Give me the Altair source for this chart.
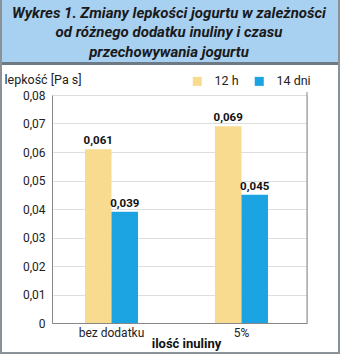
import altair as alt
import pandas as pd

categories = ["bez dodatku", "5%"]
series = ["12 h", "14 dni"]
values_12h = [0.061, 0.069]
values_14d = [0.039, 0.045]
y_ticks = [0, 0.01, 0.02, 0.03, 0.04, 0.05, 0.06, 0.07, 0.08]
title_lines = ["Wykres 1. Zmiany lepkości jogurtu w zależności",
               "od różnego dodatku inuliny i czasu",
               "przechowywania jogurtu"]
colors = ["#f8db8f", "#1ba3e2"]

rows = []
for c, a, b in zip(categories, values_12h, values_14d):
    rows.append({"cat": c, "series": series[0], "value": a})
    rows.append({"cat": c, "series": series[1], "value": b})
df = pd.DataFrame(rows)

FONT = "Roboto, sans-serif"
W, H = 255, 228
one = pd.DataFrame({"d": [0]})

x_enc = alt.X("cat:N", sort=categories,
              scale=alt.Scale(paddingInner=0.592, paddingOuter=0.277, align=0.458),
              axis=alt.Axis(title="ilość inuliny", labelAngle=0, ticks=False,
                            labelFontSize=12, labelPadding=4, labelColor="#222",
                            domainColor="#888", titleFontSize=13, titleFontWeight="bold",
                            titleX=134, titleY=20, titleBaseline="middle", titleColor="#111"))
xoff = alt.XOffset("series:N", sort=series, scale=alt.Scale(paddingInner=0, paddingOuter=0))
y_enc = alt.Y("value:Q", scale=alt.Scale(domain=[0, 0.08], nice=False),
              axis=alt.Axis(values=y_ticks, title="lepkość [Pa s]", ticks=False,
                            labelOverlap=False,
                            labelExpr="datum.value == 0 ? '0' : replace(format(datum.value, '.2f'), '.', ',')",
                            labelFontSize=12, labelPadding=7, labelColor="#222",
                            domainColor="#888", gridColor="#dedede",
                            titleAngle=0, titleX=-48, titleY=-16, titleAlign="left",
                            titleBaseline="middle", titleFontSize=12.5, titleFontWeight="normal",
                            titleColor="#222"))

bars = alt.Chart(df).mark_bar().encode(
    x=x_enc, xOffset=xoff, y=y_enc,
    color=alt.Color("series:N", sort=series,
                    scale=alt.Scale(domain=series, range=colors),
                    legend=alt.Legend(orient="none", legendX=139, legendY=-20,
                                      direction="horizontal", title=None,
                                      symbolType="square", symbolSize=81,
                                      symbolStrokeWidth=0, labelFontSize=12.5,
                                      labelOffset=11, columnPadding=14, padding=0,
                                      labelColor="#222")),
)

labels = alt.Chart(df).transform_calculate(
    lab="replace(format(datum.value, '.3f'), '.', ',')"
).mark_text(baseline="bottom", dy=-3, fontSize=11.5, fontWeight="bold", color="#111").encode(
    x=x_enc, xOffset=xoff, y=y_enc, text="lab:N")

right_rule = alt.Chart(one).mark_rule(color="#888", strokeWidth=1).encode(
    x=alt.value(W), y=alt.value(-3), y2=alt.value(H))

header = alt.Chart(one).mark_rect(color="#a8d0f0").encode(
    x=alt.value(-52), x2=alt.value(288), y=alt.value(-95), y2=alt.value(-33))
header_line = alt.Chart(one).mark_rule(color="#6d7a84", strokeWidth=3).encode(
    x=alt.value(-52), x2=alt.value(288), y=alt.value(-31.5))
frame = alt.Chart(one).mark_rect(fill=None, stroke="#8a9298", strokeWidth=2).encode(
    x=alt.value(-51), x2=alt.value(287), y=alt.value(-96), y2=alt.value(258))
title = alt.Chart(one).mark_text(text=title_lines, fontSize=15, fontWeight="bold",
                                 fontStyle="italic", lineHeight=19.5, align="center",
                                 baseline="alphabetic", color="#1a1a1a").encode(
    x=alt.value(117), y=alt.value(-77.5))

chart = alt.layer(header, header_line, title, bars, labels, right_rule, frame).properties(
    width=W, height=H,
    autosize=alt.AutoSizeParams(type="none"),
    padding={"left": 52, "top": 95, "right": 33, "bottom": 31},
    background="white",
).configure_view(stroke=None).configure(font=FONT)

chart.save("out.html", embed_options={"renderer": "svg", "actions": False})
